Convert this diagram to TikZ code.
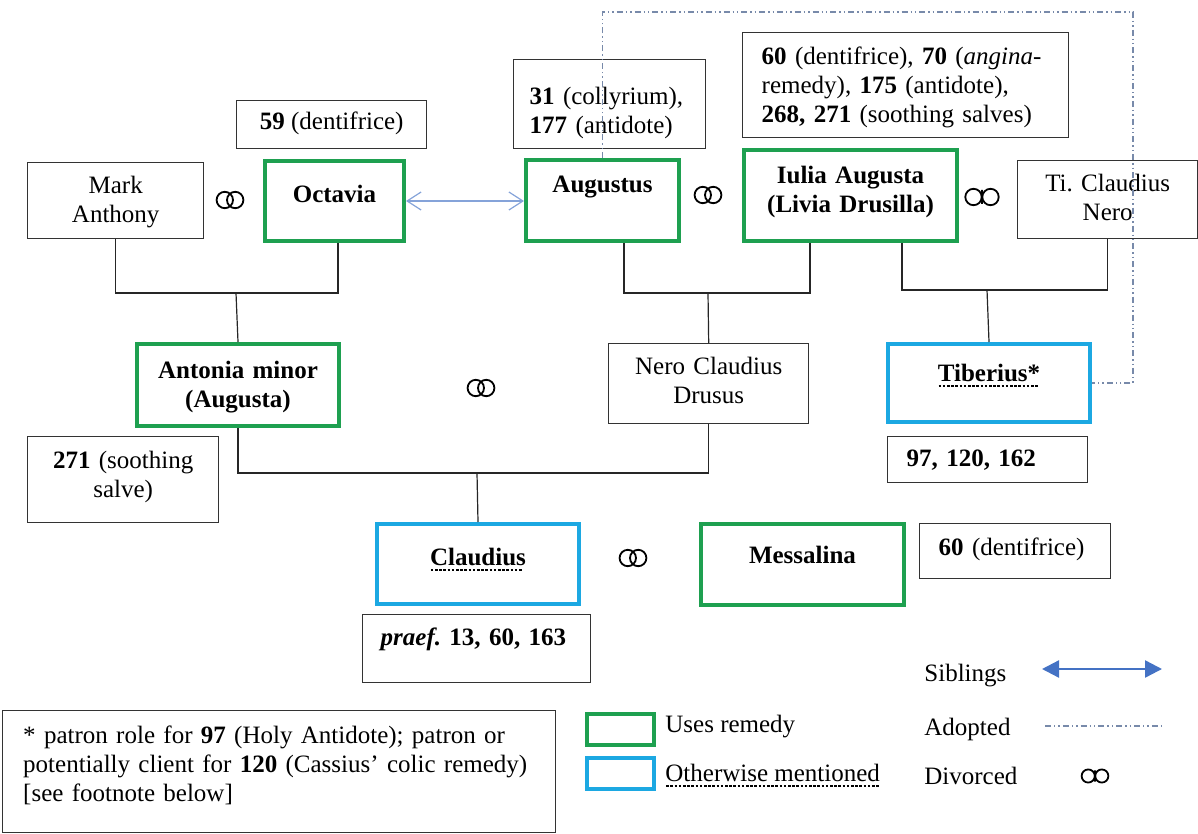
\documentclass[tikz,border=0pt]{standalone}
\usepackage{fontspec}
\setmainfont{Liberation Serif}
\usetikzlibrary{arrows.meta}

\renewcommand{\normalsize}{\fontsize{12.5pt}{14.5pt}\selectfont}
\AtBeginDocument{\normalsize\frenchspacing}

% dotted underline
\newsavebox{\ulbox}
\newcommand{\dotul}[1]{\sbox{\ulbox}{#1}\leavevmode\rlap{\raisebox{-2.8pt}{\hbox to \wd\ulbox{\leaders\hbox to 2.1pt{\hss\rule{1.3pt}{1pt}\hss}\hfill}}}\usebox{\ulbox}}

\definecolor{usegreen}{RGB}{30,160,80}
\definecolor{mentblue}{RGB}{28,168,226}
\definecolor{sibblue}{RGB}{68,114,196}
\definecolor{adoptgray}{RGB}{120,138,170}

\tikzset{
    person/.style={draw=black!80, line width=0.7pt, inner ysep=0pt, anchor=north west},
    note/.style={draw=black!80, line width=0.7pt, inner ysep=0pt, anchor=north west},
    usesbox/.style={draw=usegreen, line width=2pt, inner ysep=0pt, anchor=north west, font=\bfseries},
    mentbox/.style={draw=mentblue, line width=2pt, inner ysep=0pt, anchor=north west, font=\bfseries},
    tb/.style 2 args={text height=#1, text depth=#2},
    family/.style={draw=black!85, line width=0.6pt},
    adopted/.style={draw=adoptgray, line width=0.6pt, dash pattern=on 3pt off 1.5pt on 0.7pt off 1.5pt on 0.7pt off 1.5pt},
    sib/.style={draw=sibblue!65, line width=0.6pt, {Straight Barb[length=7pt,width=9pt]}-{Straight Barb[length=7pt,width=9pt]}},
    sibkey/.style={draw=sibblue, line width=1.2pt, {Triangle[length=8.5pt,width=8.5pt]}-{Triangle[length=8.5pt,width=8.5pt]}},
    legtext/.style={anchor=west, inner sep=0pt},
    wed/.pic={\draw[line width=0.9pt] (-2.6pt,0) circle (4.1pt) (2.6pt,0) circle (4.1pt);},
    divorce/.pic={\draw[line width=0.9pt] (-4.25pt,0) circle (4.1pt) (4.25pt,0) circle (4.1pt) (0,-3.5pt) -- (0,3.5pt);}
}

\begin{document}
\begin{tikzpicture}[x=0.5pt, y=-0.5pt]

    \useasboundingbox (0,0) rectangle (1198,834);

    % first generation
    \node[person, text width=80pt, inner xsep=4pt, align=center, tb={15.5pt}{22.5pt}] (mark) at (27,162) {Mark\\Anthony};
    \node[usesbox, minimum width=69.5pt, tb={21pt}{19pt}] (octavia) at (263,159) {Octavia};
    \node[usesbox, minimum width=76.5pt, tb={16.5pt}{24pt}] (augustus) at (524,158) {Augustus};
    \node[usesbox, text width=100pt, inner xsep=3.25pt, align=center, tb={17pt}{28.5pt}] (iulia) at (742,148) {Iulia Augusta\\(Livia Drusilla)};
    \node[person, text width=84pt, inner xsep=3pt, align=center, tb={15.5pt}{23.5pt}] (tinero) at (1017,160) {Ti. Claudius\\Nero};

    % second generation
    \node[usesbox, text width=95pt, inner xsep=3pt, align=center, tb={17pt}{24pt}] (antonia) at (135,342) {Antonia minor\\(Augusta)};
    \node[person, text width=94pt, inner xsep=3pt, align=center, tb={15.5pt}{24.5pt}] (drusus) at (608,343) {Nero Claudius\\Drusus};
    \node[mentbox, minimum width=101pt, tb={18.5pt}{20.5pt}] (tiberius) at (886,342) {\dotul{Tiberius*}};

    % third generation
    \node[mentbox, minimum width=101pt, tb={20.5pt}{19.5pt}] (claudius) at (375,522) {\dotul{Claudius}};
    \node[usesbox, minimum width=101.5pt, tb={19.5pt}{21pt}] (messalina) at (699,522) {Messalina};

    % remedies
    \node[note, minimum width=95pt, tb={14.5pt}{9.5pt}] (n59) at (236,100) {\textbf{59} (dentifrice)};
    \node[note, text width=80pt, inner xsep=8pt, align=left, tb={22.5pt}{22pt}] (n31) at (513,59) {\textbf{31} (collyrium),\\\textbf{177} (antidote)};
    \node[note, text width=144pt, inner xsep=9.5pt, align=left, tb={16pt}{36.5pt}] (n60a) at (742,32) {\textbf{60} (dentifrice), \textbf{70} (\textit{angina}-\\remedy), \textbf{175} (antidote),\\\textbf{268, 271} (soothing salves)};
    \node[note, text width=89pt, inner xsep=3.25pt, align=center, tb={16pt}{27pt}] (n271) at (27,436) {\textbf{271} (soothing\\salve)};
    \node[note, text width=81pt, inner xsep=9.5pt, align=left, tb={15pt}{8pt}] (n97) at (887,436) {\textbf{97, 120, 162}};
    \node[note, text width=76.5pt, inner xsep=9.5pt, align=left, tb={16pt}{11.5pt}] (n60b) at (919,523) {\textbf{60} (dentifrice)};
    \node[note, text width=96pt, inner xsep=9pt, align=left, tb={15.5pt}{18.5pt}] (praef) at (362,614) {\textbf{\textit{praef.}} \textbf{13, 60, 163}};
    \node[note, text width=256pt, inner xsep=10.25pt, align=left, tb={16.5pt}{44.5pt}] (foot) at (2,710) {* patron role for \textbf{97} (Holy Antidote); patron or\\potentially client for \textbf{120} (Cassius’ colic remedy)\\{}[see footnote below]};

    % descent
    \coordinate (u1) at (236,293);
    \coordinate (u2) at (708,293);
    \coordinate (u3) at (987,290);
    \coordinate (u4) at (477,473);
    \draw[family] (mark.south) |- (u1) -| ([xshift=1.75pt]octavia.south);
    \draw[family] (u1) -- (antonia.north);
    \draw[family] ([xshift=10.75pt]augustus.south) |- (u2) -| ([xshift=-20.25pt]iulia.south);
    \draw[family] (u2) -- (drusus.north);
    \draw[family] ([xshift=25.75pt]iulia.south) |- (u3) -| (tinero.south);
    \draw[family] (u3) -- (tiberius.north);
    \draw[family] (antonia.south) |- (u4) -| (drusus.south);
    \draw[family] (u4) -- (claudius.north);

    \draw[sib] (octavia.east) -- (octavia.east -| augustus.west);
    \coordinate (adtop) at (1133,12);
    \draw[adopted] (augustus.north) |- (adtop) |- (tiberius.east);

    % marriages
    \pic at (230,200) {wed};
    \pic at (708,195) {wed};
    \pic at (481,388) {wed};
    \pic at (633,558) {wed};
    \pic at (982,197) {divorce};

    % legend
    \node[usesbox, minimum width=33.5pt, minimum height=15.5pt, inner sep=0pt] (kgreen) at (585,712) {};
    \node[mentbox, minimum width=33.5pt, minimum height=15.5pt, inner sep=0pt] (kblue) at (585,756) {};
    \node[legtext] (kuses) at (665,727) {Uses remedy};
    \node[legtext] (kment) at (665,776) {\dotul{Otherwise mentioned}};
    \node[legtext] (ksib) at (924,676) {Siblings};
    \node[legtext] (kadopt) at (924,729) {Adopted};
    \node[legtext] (kdiv) at (924,776) {Divorced};
    \coordinate (sibA) at (1042,669);
    \coordinate (sibB) at (1162,669);
    \draw[sibkey] (sibA) -- (sibB);
    \coordinate (adA) at (1045,726);
    \coordinate (adB) at (1162,726);
    \draw[adopted] (adA) -- (adB);
    \pic[scale=0.8] at (1095,776) {divorce};

\end{tikzpicture}
\end{document}
